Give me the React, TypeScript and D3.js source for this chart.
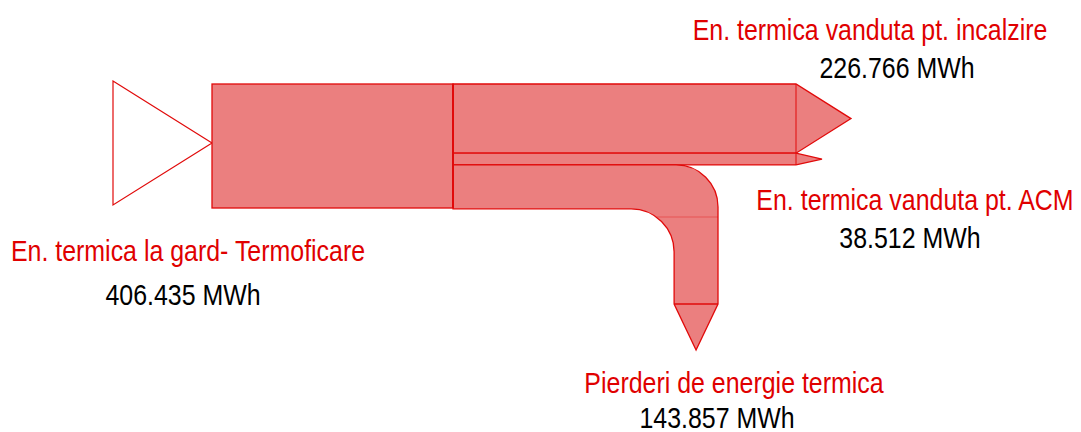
import React from "react";
import * as d3 from "d3";

const sourceLabel = "En. termica la gard- Termoficare";
const sourceValue = 406.435;
const targetLabels = [
  "En. termica vanduta pt. incalzire",
  "En. termica vanduta pt. ACM",
  "Pierderi de energie termica",
];
const targetValues = [226.766, 38.512, 143.857];
const unit = "MWh";

const FILL = "#EB7F7F";
const STROKE = "#E10A0A";
const RED_TEXT = "#E00000";
const FONT = "'Liberation Sans', Arial, sans-serif";
const NARROW = 0.86;

export default function App() {
  const W = 1081, H = 432;
  const top = 84;
  const xMain0 = 212, xMain1 = 453, xArrowBase = 796;
  const k = d3.scaleLinear().domain([0, sourceValue]).range([0, 124]);
  const mainH = k(sourceValue);
  const cum = d3.cumsum(targetValues);
  const bands = targetValues.map((v, i) => {
    const y0 = top + k(i === 0 ? 0 : cum[i - 1]);
    const y1 = top + k(cum[i]);
    return { y0, y1, mid: (y0 + y1) / 2, w: y1 - y0 };
  });
  const arrowLen = [55, 26];

  // losses geometry
  const L = bands[2];
  const rO = 42, rI = 43;
  const xOuter = 718;
  const xInner = xOuter - L.w;
  const yBottom = 304;
  const lossArrow = 46;
  const lossPath = [
    `M${xMain1},${L.y0}`,
    `L${xOuter - rO},${L.y0}`,
    `A${rO},${rO} 0 0 1 ${xOuter},${L.y0 + rO}`,
    `L${xOuter},${yBottom}`,
    `L${(xOuter + xInner) / 2},${yBottom + lossArrow}`,
    `L${xInner},${yBottom}`,
    `L${xInner},${L.y1 + rI}`,
    `A${rI},${rI} 0 0 0 ${xInner - rI},${L.y1}`,
    `L${xMain1},${L.y1}`,
    "Z",
  ].join(" ");
  const sepY = 217;
  const cxI = xInner - rI, cyI = L.y1 + rI;
  const sepX = cxI + Math.sqrt(rI * rI - (sepY - cyI) * (sepY - cyI));

  const triTop = top - 3;
  const tri = `M113,${triTop} L${xMain0},${triTop + mainH / 2} L113,${triTop + mainH} Z`;

  const labels = [
    { t: sourceLabel, v: sourceValue, x: 188, y: 261, vx: 183, vy: 305 },
    { t: targetLabels[0], v: targetValues[0], x: 870, y: 40, vx: 897, vy: 78 },
    { t: targetLabels[1], v: targetValues[1], x: 915, y: 210, vx: 910, vy: 248 },
    { t: targetLabels[2], v: targetValues[2], x: 734, y: 393, vx: 717, vy: 428 },
  ];
  const fmt = d3.format(".3f");

  return (
    <svg width={W} height={H} style={{ position: "absolute", left: 0, top: 0 }}>
      <rect width={W} height={H} fill="#fff" />
      <path d={tri} fill="#fff" stroke={STROKE} strokeWidth={1.2} />
      {bands.slice(0, 2).map((b, i) => (
        <g key={i}>
          <path
            d={`M${xMain1},${b.y0} L${xArrowBase},${b.y0} L${xArrowBase + arrowLen[i]},${b.mid} L${xArrowBase},${b.y1} L${xMain1},${b.y1} Z`}
            fill={FILL}
            stroke={STROKE}
            strokeWidth={1.3}
          />
          <line x1={xArrowBase} x2={xArrowBase} y1={b.y0} y2={b.y1} stroke={STROKE} strokeWidth={1} />
        </g>
      ))}
      <path d={lossPath} fill={FILL} stroke={STROKE} strokeWidth={1.3} />
      <line x1={xInner} x2={xOuter} y1={yBottom} y2={yBottom} stroke={STROKE} strokeWidth={1.3} />
      <line x1={sepX} x2={xOuter} y1={sepY} y2={sepY} stroke={STROKE} strokeWidth={0.6} opacity={0.6} />
      <rect x={xMain0} y={top} width={xMain1 - xMain0} height={mainH} fill={FILL} stroke={STROKE} strokeWidth={1.3} />
      <line x1={xMain1} x2={xMain1} y1={top} y2={top + mainH} stroke={STROKE} strokeWidth={2} />
      {labels.map((l, i) => (
        <g key={i} fontFamily={FONT} fontSize={29} textAnchor="middle">
          <text transform={`translate(${l.x},${l.y}) scale(${NARROW},1)`} fill={RED_TEXT}>{l.t}</text>
          <text transform={`translate(${l.vx},${l.vy}) scale(${NARROW},1)`} fill="#000">{`${fmt(l.v)} ${unit}`}</text>
        </g>
      ))}
    </svg>
  );
}
